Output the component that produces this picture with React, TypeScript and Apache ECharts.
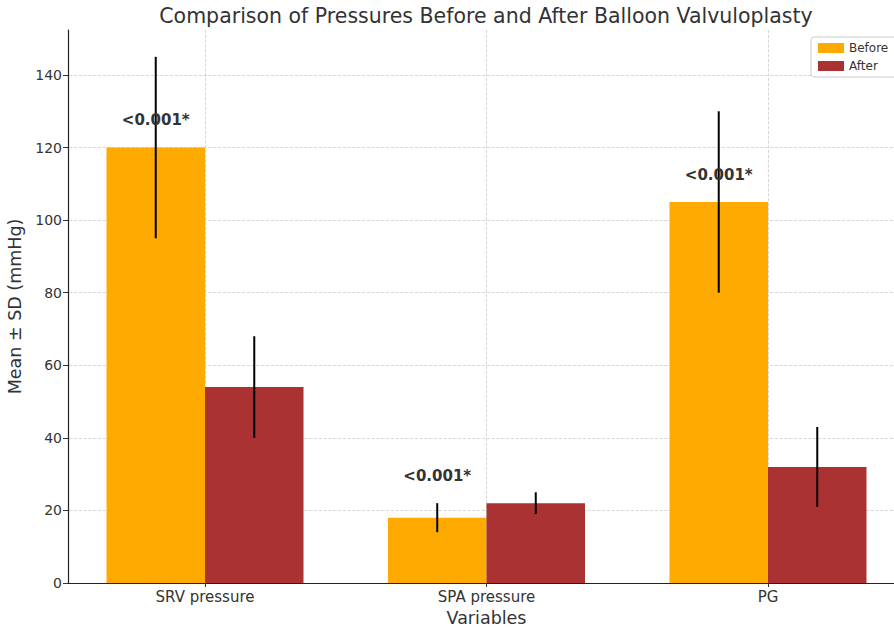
import React, { useEffect, useRef } from "react";
import * as echarts from "echarts";

const categories = ["SRV pressure", "SPA pressure", "PG"];
const beforeMean = [120, 18, 105];
const beforeSD = [25, 4, 25];
const afterMean = [54, 22, 32];
const afterSD = [14, 3, 11];
const pLabels = ["<0.001*", "<0.001*", "<0.001*"];
const yTicks = [0, 20, 40, 60, 80, 100, 120, 140];
const xGridTicks = [0, 1, 2];

const FONT = "DejaVu Sans";
const BAR_FRAC = 0.35;

export default function App() {
  const ref = useRef<HTMLDivElement>(null);
  useEffect(() => {
    if (!ref.current) return;
    const chart = echarts.init(ref.current, null, { renderer: "svg" });

    const errSeries = (means: number[], sds: number[], off: number) => ({
      type: "custom",
      silent: true,
      z: 5,
      data: means.map((m, i) => [i, m, sds[i]]),
      renderItem: (params: any, api: any) => {
        const i = api.value(0);
        const m = api.value(1);
        const s = api.value(2);
        const bw = api.size([1, 0])[0];
        const x = api.coord([i, m])[0] + off * bw;
        const y1 = api.coord([i, m + s])[1];
        const y2 = api.coord([i, m - s])[1];
        return {
          type: "line",
          shape: { x1: x, y1, x2: x, y2 },
          style: { stroke: "#000", lineWidth: 2 },
        };
      },
    });

    const option: any = {
      animation: false,
      backgroundColor: "#fff",
      textStyle: { fontFamily: FONT },
      title: {
        text: "Comparison of Pressures Before and After Balloon Valvuloplasty",
        left: 481,
        textAlign: "center",
        top: 0,
        textStyle: { fontFamily: FONT, fontSize: 20.5, fontWeight: "normal", color: "#333" },
      },
      legend: {
        orient: "vertical",
        left: 811,
        top: 37,
        icon: "rect",
        itemWidth: 26,
        itemHeight: 10,
        itemGap: 6,
        padding: [5, 8, 5, 7],
        borderColor: "#ccc",
        borderWidth: 1,
        borderRadius: 3,
        backgroundColor: "#fff",
        textStyle: { fontFamily: FONT, fontSize: 12, color: "#333" },
        data: ["Before", "After"],
      },
      grid: { left: 64.25, top: 30, width: 844.5, height: 553, outerBoundsMode: "none", containLabel: false },
      xAxis: [
        {
          type: "category",
          data: categories,
          name: "Variables",
          nameLocation: "middle",
          nameGap: 20,
          nameTextStyle: { fontFamily: FONT, fontSize: 17.5, color: "#333" },
          axisLine: { onZero: false, lineStyle: { color: "#222", width: 1.2 } },
          axisTick: { show: true, alignWithLabel: true, length: 4, lineStyle: { color: "#333" } },
          axisLabel: { fontFamily: FONT, fontSize: 15, color: "#333", margin: 6 },
          splitLine: { show: false },
        },
        {
          type: "value",
          min: -0.5,
          max: 2.5,
          show: true,
          position: "bottom",
          axisLine: { show: false, onZero: false },
          axisLabel: { show: false },
          axisTick: { show: false, customValues: xGridTicks },
          splitLine: { show: true, lineStyle: { color: "#ccc", type: "dashed", width: 0.8 } },
        },
      ],
      yAxis: {
        type: "value",
        min: 0,
        max: 152.4,
        interval: 20,
        offset: -3.75,
        name: "Mean ± SD (mmHg)",
        nameLocation: "middle",
        nameGap: 35,
        nameTextStyle: { fontFamily: FONT, fontSize: 17.5, color: "#333" },
        axisLine: { show: true, onZero: false, lineStyle: { color: "#222", width: 1.2 } },
        axisTick: { show: true, length: 5, lineStyle: { color: "#333" }, customValues: yTicks },
        axisLabel: { fontFamily: FONT, fontSize: 14, color: "#333", margin: 6, customValues: yTicks },
        splitLine: { show: true, lineStyle: { color: "#ccc", type: "dashed", width: 0.8 } },
      },
      series: [
        {
          name: "Before",
          type: "bar",
          data: beforeMean,
          barWidth: 98.5,
          barGap: "0%",
          itemStyle: { color: "#FFAA00" },
        },
        {
          name: "After",
          type: "bar",
          data: afterMean,
          barWidth: 98.5,
          barGap: "0%",
          itemStyle: { color: "#AB3232" },
        },
        errSeries(beforeMean, beforeSD, -BAR_FRAC / 2),
        errSeries(afterMean, afterSD, BAR_FRAC / 2),
        {
          type: "custom",
          silent: true,
          z: 6,
          data: beforeMean.map((m, i) => [i, Math.max(m, afterMean[i]) + 7.5]),
          renderItem: (params: any, api: any) => {
            const i = api.value(0);
            const y = api.value(1);
            const bw = api.size([1, 0])[0];
            const p = api.coord([i, y]);
            return {
              type: "text",
              x: p[0] - (BAR_FRAC / 2) * bw,
              y: p[1],
              style: {
                text: pLabels[i],
                font: `bold 15px "${FONT}"`,
                fill: "#333",
                align: "center",
                verticalAlign: "middle",
              },
            };
          },
        },
      ],
    };
    chart.setOption(option);
    return () => chart.dispose();
  }, []);
  return (
    <div
      ref={ref}
      style={{ position: "fixed", left: 0, top: 0, width: 894, height: 628 }}
    />
  );
}
